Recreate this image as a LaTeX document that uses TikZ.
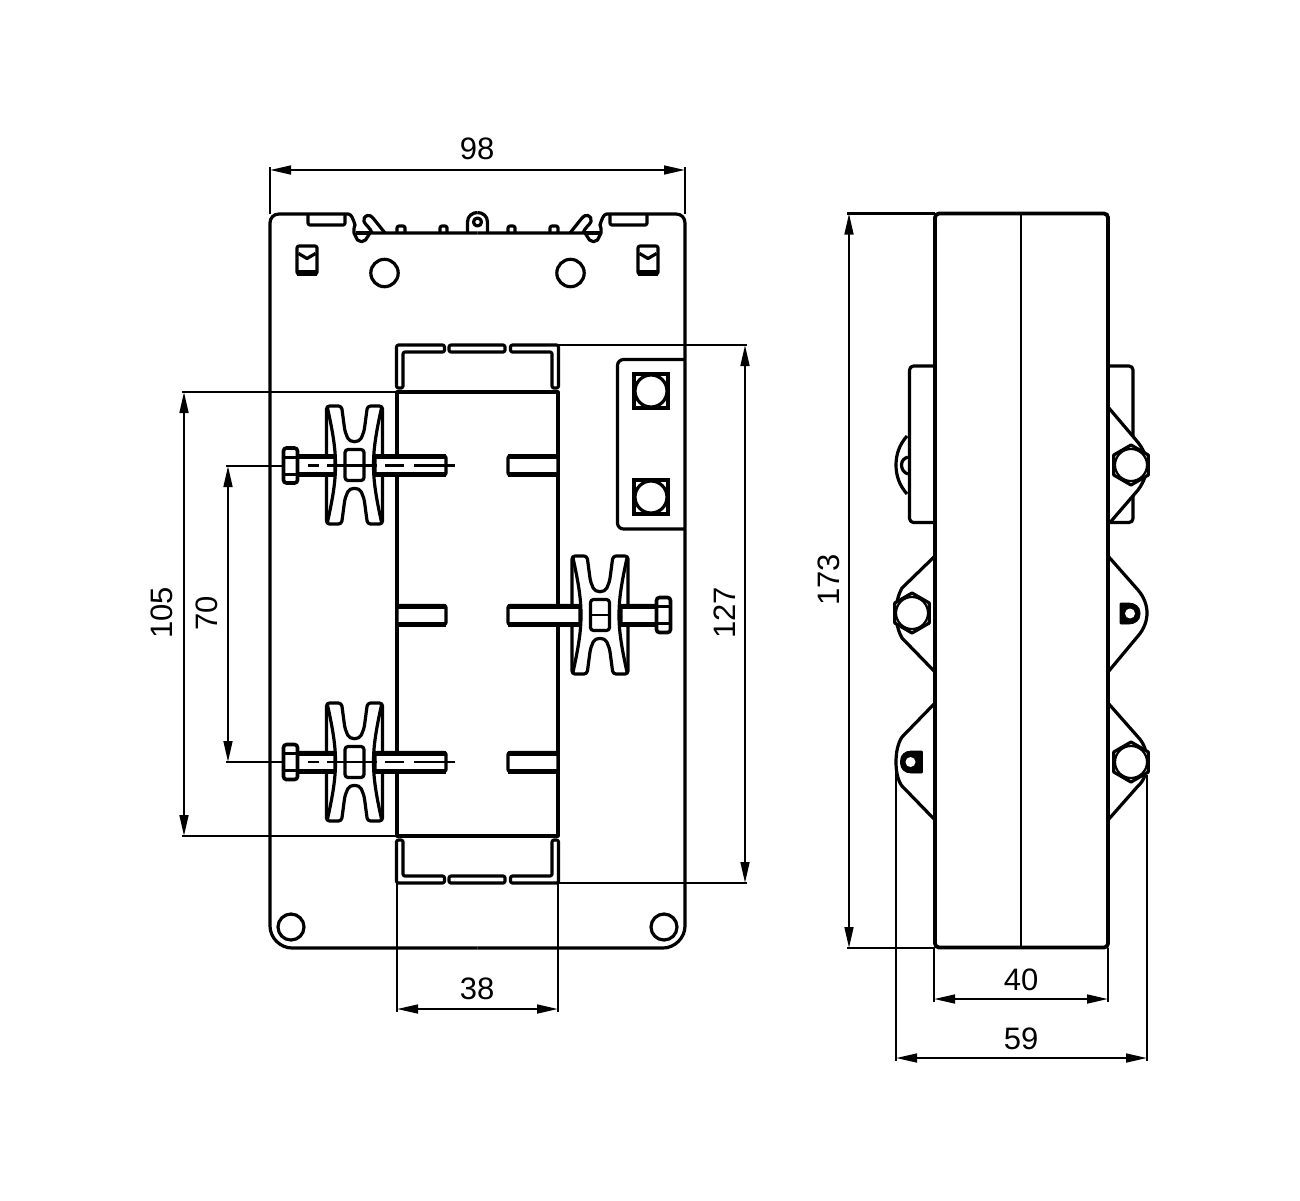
\documentclass[tikz,border=0pt]{standalone}
\usepackage{fontspec}
\setmainfont{Liberation Sans}
\usetikzlibrary{arrows.meta}
\def\stud(#1,#2,#3)% Syntax: (left end,right end,height)
{ \draw[part,fill=white,rounded corners=1pt] (#1,#3-9.5) rectangle (#2,#3+9.5);
  \draw[line width=2.5pt] (#1,#3-9) -- (#2,#3-9) (#1,#3+9) -- (#2,#3+9); }
\tikzset{
	part/.style={line width=1.6pt,line join=round},
	dimline/.style={line width=1.1pt,{Triangle[length=10.5pt,width=4.4pt]}-{Triangle[length=10.5pt,width=4.4pt]}},
	extline/.style={line width=1.1pt},
	dimtext/.style={font=\fontsize{15.5}{18}\selectfont,inner sep=0pt},
	clamp/.pic={
		\draw[part,rounded corners=1.5pt] (-28,-59) -- (-13,-59) .. controls (-11,-45) and (-10,-35) .. (-8,-30)
			.. controls (-5,-22) and (5,-22) .. (8,-30) .. controls (10,-35) and (11,-45) .. (13,-59) -- (28,-59) -- (28,59) -- (13,59)
			.. controls (11,45) and (10,35) .. (8,30) .. controls (5,22) and (-5,22) .. (-8,30)
			.. controls (-10,35) and (-11,45) .. (-13,59) -- (-28,59) -- cycle;
		\draw[part] (-27,-57) .. controls (-21,-30) and (-19,-15) .. (-19,0) .. controls (-19,15) and (-21,30) .. (-27,57);
		\draw[part] (27,-57) .. controls (21,-30) and (19,-15) .. (19,0) .. controls (19,15) and (21,30) .. (27,57);
		\draw[part,rounded corners=1.5pt] (-9.5,-15.5) rectangle (9.5,15.5);
		\draw[line width=1pt] (-9.5,0) -- (9.5,0);
	},
	bolthead/.pic={
		\draw[line width=1.8pt,fill=white,rounded corners=1.5pt] (-7,-17.5) rectangle (7,17.5);
		\draw[line width=1.5pt] (-7,-8.5) -- (7,-8.5) (-7,8.5) -- (7,8.5);
	},
	hexnut/.pic={
		\draw[part,fill=white] (0,-20) -- (17.3,-10) -- (17.3,10) -- (0,20) -- (-17.3,10) -- (-17.3,-10) -- cycle;
		\draw[line width=1.1pt,fill=white] (0,0) circle (16);
	},
	squarenut/.pic={
		\draw[line width=2pt,fill=white] (-17,-17) rectangle (17,17);
		\draw[part,fill=white] (0,0) circle (16);
	},
	halfplate/.pic={
		\draw[part] (0,233) -- (-107.5,233) -- (-112,240) -- (-116,241.7) -- (-120,240) -- (-123.5,233) .. controls (-124,229) and (-123,226) .. (-122.5,225)
			.. controls (-124,220) and (-126,214) .. (-129.2,214) -- (-198.5,214) .. controls (-204,214) and (-207.5,218) .. (-207.5,223)
			-- (-207.5,926) .. controls (-207.5,938) and (-197,948) .. (-185.5,948) -- (0,948);
		\draw[part] (-122,233) -- (-107.5,233);
		\draw[part] (-92.5,233) -- (-104.5,218) .. controls (-106,216) and (-108,215) .. (-110,215.5) .. controls (-113,216.5) and (-114.5,219) .. (-113.5,221.7) .. controls (-112,225) and (-107,228) .. (-105.5,233);
		\draw[part,rounded corners=1pt] (-80.5,233) -- (-80.5,226) -- (-72.5,226) -- (-72.5,233);
		\draw[part,rounded corners=1pt] (-37.5,233) -- (-37.5,226) -- (-30.5,226) -- (-30.5,233);
		\draw[part] (-10,233) -- (-10,222) .. controls (-10,216) and (-5,212.5) .. (0,212.5);
		\draw[part,rounded corners=1pt] (-169.5,214) -- (-169.5,225) -- (-132.5,225) -- (-132.5,214);
		\draw[part,rounded corners=1pt] (-180.5,246) rectangle (-160.5,274);
		\draw[line width=2.6pt] (-180.5,273) -- (-160.5,273);
		\draw[part] (-179,253.5) -- (-170.5,258.5) -- (-162,253.5);
		\draw[part] (-93,273) circle (13.7);
		\draw[part] (-186.5,927) circle (13);
		\draw[part,rounded corners=1pt] (-81,388) -- (-81,345) -- (-33,345) -- (-33,352) -- (-74.5,352) -- (-74.5,388) -- cycle;
		\draw[part,rounded corners=1pt] (-81,840) -- (-81,883) -- (-33,883) -- (-33,876) -- (-74.5,876) -- (-74.5,840) -- cycle;
	}
}
\begin{document}
\begin{tikzpicture}[x=.5pt,y=-.5pt]
	\useasboundingbox (0,0) rectangle (1300,1200);
	% front view
	\pic at (477.5,0) {halfplate};
	\pic[xscale=-1] at (477.5,0) {halfplate};
	\draw[part] (477.5,222) circle (4);
	\draw[part,rounded corners=1pt] (449,345) rectangle (505,352);
	\draw[part,rounded corners=1pt] (449,876) rectangle (505,883);
	\draw[part] (397,392) rectangle (558,836);
	\draw[part,rounded corners=3pt] (685,359.5) -- (617.5,359.5) -- (617.5,529) -- (685,529);
	\pic at (651,391) {squarenut};
	\pic at (651,497) {squarenut};
	% clamps and studs
	\pic at (354.5,465) {clamp};
	\pic at (354.5,762) {clamp};
	\pic at (600,615) {clamp};
	\stud(297,335,465.5)
	\stud(375,446,465.5)
	\stud(297,335,762)
	\stud(375,446,762)
	\stud(508,558,465.5)
	\stud(508,558,762)
	\stud(397,446,615)
	\stud(508,580,615)
	\stud(621,657,615)
	\pic at (290.5,465.5) {bolthead};
	\pic at (290.5,762) {bolthead};
	\pic at (663.5,615) {bolthead};
	% centre lines through the studs
	\foreach \cy in {465.5,762}
	{
		\draw[extline] (308,\cy) -- (319,\cy) (327,\cy) -- (377,\cy) (385,\cy) -- (404,\cy) (414,\cy) -- (455,\cy);
	}
	% side view
	\draw[part,rounded corners=2pt] (935,366) -- (909.5,366) -- (909.5,522.5) -- (935,522.5);
	\draw[part,rounded corners=2pt] (1108,366) -- (1133,366) -- (1133,522.5) -- (1108,522.5);
	\draw[part] (907,436) .. controls (899,445) and (896,455) .. (896,465) .. controls (896,475) and (899,485) .. (907,494);
	\draw[part] (908,457) .. controls (904,458) and (901.5,461) .. (901.5,465) .. controls (901.5,469) and (904,473) .. (908,474);
	\draw[part,fill=white] (1108,407) -- (1136,440) .. controls (1143,448) and (1147,457) .. (1147,465) .. controls (1147,473) and (1144,482) .. (1138,490) -- (1110,522.5);
	\draw[part,fill=white] (935,556) -- (902,588) .. controls (898,595) and (896,604) .. (896,613) .. controls (896,622) and (898,631) .. (902,638) -- (935,672);
	\draw[part,fill=white] (1108,556) -- (1138,590) .. controls (1144,597) and (1147,605) .. (1147,613) .. controls (1147,621) and (1144,629) .. (1138,636) -- (1108,672);
	\draw[part,fill=white] (935,703) -- (902,737) .. controls (898,743) and (896,752) .. (896,762) .. controls (896,772) and (898,781) .. (902,786) -- (935,820);
	\draw[part,fill=white] (1108,703) -- (1138,737) .. controls (1144,743) and (1147,752) .. (1147,762) .. controls (1147,772) and (1144,781) .. (1138,786) -- (1108,820);
	\pic at (1131,465) {hexnut};
	\pic at (912,613) {hexnut};
	\pic at (1131,762) {hexnut};
	\draw[fill=black,rounded corners=.5pt] (1120,603) -- (1128,603) .. controls (1135,603) and (1140,607) .. (1140,613.5) .. controls (1140,620) and (1135,624) .. (1128,624) -- (1120,624) -- cycle;
	\draw[fill=white,draw=none] (1130,613.5) circle (5);
	\draw[fill=black,rounded corners=.5pt] (922.5,751) -- (912,751) .. controls (905,751) and (900.5,755) .. (900.5,762) .. controls (900.5,769) and (905,773) .. (912,773) -- (922.5,773) -- cycle;
	\draw[fill=white,draw=none] (910.5,762) circle (5);
	\draw[line width=1.9pt,rounded corners=2pt,fill=white] (935,213.5) rectangle (1108,947.5);
	\draw[line width=1.3pt] (1021,213.5) -- (1021,947.5);
	% dimension coordinates
	\coordinate (w98a) at (270,170);
	\coordinate (w98b) at (685,170);
	\coordinate (w38a) at (397,1009);
	\coordinate (w38b) at (558,1009);
	\coordinate (h105a) at (184,392);
	\coordinate (h105b) at (184,836);
	\coordinate (h70a) at (228,466);
	\coordinate (h70b) at (228,762);
	\coordinate (h127a) at (745,345);
	\coordinate (h127b) at (745,883);
	\coordinate (h173a) at (849,213.5);
	\coordinate (h173b) at (849,948);
	\coordinate (w40a) at (934,999);
	\coordinate (w40b) at (1108,999);
	\coordinate (w59a) at (896,1058);
	\coordinate (w59b) at (1147,1058);
	% extension lines
	\draw[extline] (270,214) -- (270,167) (685,214) -- (685,167);
	\draw[extline] (397,883) -- (397,1012) (558,883) -- (558,1012);
	\draw[extline] (397,392) -- (182,392) (397,836) -- (182,836);
	\draw[extline] (284,466) -- (226,466) (284,762) -- (226,762);
	\draw[extline] (558,345) -- (747,345) (558,883) -- (747,883);
	\draw[extline] (935,213.5) -- (847,213.5) (935,948) -- (847,948);
	\draw[extline] (934,948) -- (934,1002) (1108,948) -- (1108,1002);
	\draw[extline] (896,765) -- (896,1061) (1147,775) -- (1147,1061);
	% dimension lines
	\draw[dimline] (w98a) -- (w98b);
	\draw[dimline] (w38a) -- (w38b);
	\draw[dimline] (h105a) -- (h105b);
	\draw[dimline] (h70a) -- (h70b);
	\draw[dimline] (h127a) -- (h127b);
	\draw[dimline] (h173a) -- (h173b);
	\draw[dimline] (w40a) -- (w40b);
	\draw[dimline] (w59a) -- (w59b);
	\node[dimtext] (lbl98) at (477,149) {98};
	\node[dimtext] (lbl38) at (477,989) {38};
	\node[dimtext,rotate=90] (lbl105) at (162,613) {105};
	\node[dimtext,rotate=90] (lbl70) at (207,613) {70};
	\node[dimtext,rotate=90] (lbl127) at (725,613) {127};
	\node[dimtext,rotate=90] (lbl173) at (829,580) {173};
	\node[dimtext] (lbl40) at (1021,980) {40};
	\node[dimtext] (lbl59) at (1021,1039) {59};
\end{tikzpicture}
\end{document}
